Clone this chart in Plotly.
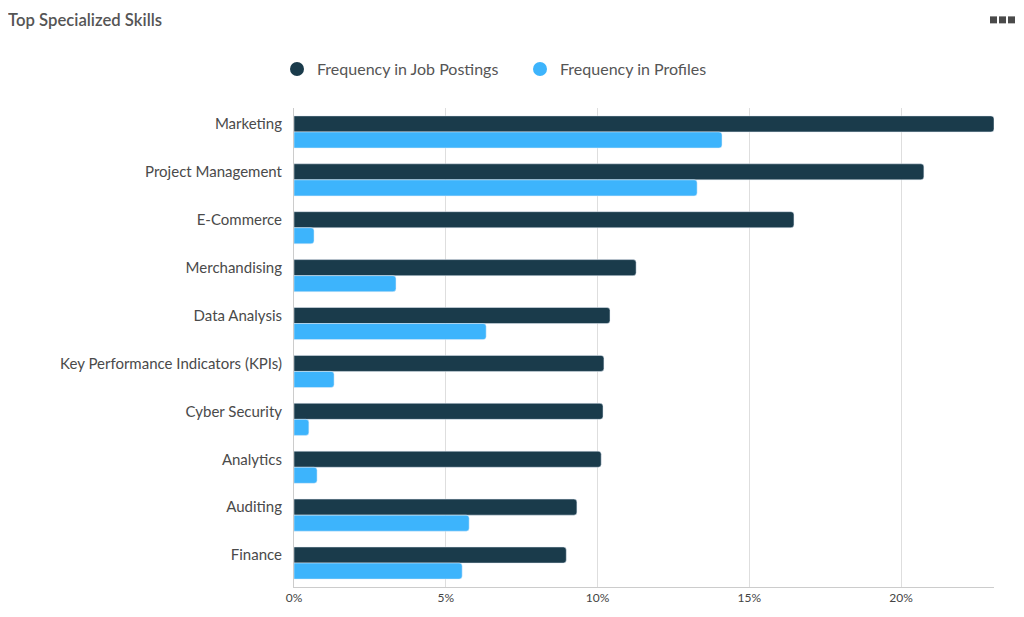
import plotly.graph_objects as go

skills = ["Marketing", "Project Management", "E-Commerce", "Merchandising", "Data Analysis",
          "Key Performance Indicators (KPIs)", "Cyber Security", "Analytics", "Auditing", "Finance"]
job_postings = [23.06, 20.75, 16.47, 11.27, 10.41, 10.21, 10.18, 10.12, 9.32, 8.97]
profiles = [14.10, 13.28, 0.66, 3.36, 6.33, 1.32, 0.49, 0.76, 5.77, 5.54]
x_ticks = [0, 5, 10, 15, 20]
x_tick_labels = ["0%", "5%", "10%", "15%", "20%"]

DARK = "#1a3b4b"
BLUE = "#3db4fc"
FONT = "Lato, Open Sans, sans-serif"

W, H = 1016, 609
L, R, T, B = 286, 30, 100, 28
PW, PH = W - L - R, H - T - B


def px_x(xf):
    return (xf - L) / PW


def px_y(yf):
    return (H - B - yf) / PH


fig = go.Figure()
fig.add_trace(go.Bar(y=skills, x=job_postings, orientation="h", name="Frequency in Job Postings",
                     marker=dict(color=DARK, cornerradius=3), showlegend=False))
fig.add_trace(go.Bar(y=skills, x=profiles, orientation="h", name="Frequency in Profiles",
                     marker=dict(color=BLUE, cornerradius=3), showlegend=False))
# legend entries with circle markers
fig.add_trace(go.Scatter(x=[None], y=[None], mode="markers", name="Frequency in Job Postings",
                         marker=dict(color=DARK, size=14, symbol="circle")))
fig.add_trace(go.Scatter(x=[None], y=[None], mode="markers", name="Frequency in Profiles",
                         marker=dict(color=BLUE, size=14, symbol="circle")))

fig.update_layout(
    width=W, height=H,
    margin=dict(l=L, r=R, t=T, b=B),
    paper_bgcolor="white", plot_bgcolor="white",
    font=dict(family=FONT, color="#4a4a4a"),
    barmode="group", bargap=0.33, bargroupgap=0,
    title=dict(text="Top Specialized Skills", xref="container", x=0.0, xanchor="left",
               yref="container", y=1 - 12 / H, yanchor="middle", pad=dict(l=0, t=0),
               font=dict(size=16.7, color="#555555", family=FONT, weight=600)),
    legend=dict(orientation="h", x=px_x(269), xanchor="left", y=px_y(61), yanchor="middle",
                font=dict(size=16, color="#555555"), itemsizing="trace", itemwidth=30,
                entrywidth=198, traceorder="normal"),
    shapes=[dict(type="rect", xref="paper", yref="paper",
                 x0=px_x(x0), x1=px_x(x0 + 7),
                 y0=px_y(15), y1=px_y(8),
                 fillcolor="#4a4a4a", line=dict(width=0))
            for x0 in (982, 991, 1000)],
)
fig.update_xaxes(range=[0, 23.06], tickvals=x_ticks, ticktext=x_tick_labels,
                 showgrid=True, gridcolor="#dedede", gridwidth=1,
                 showline=True, linecolor="#cccccc", zeroline=False,
                 tickfont=dict(size=12, color="#444444"), ticks="", fixedrange=True)
fig.update_yaxes(autorange="reversed", showline=True, linecolor="#cccccc",
                 tickfont=dict(size=15, color="#4a4a4a"), ticks="",
                 ticklabelstandoff=8, ticklabelshift=8, showgrid=False)

fig.write_html("out.html")
